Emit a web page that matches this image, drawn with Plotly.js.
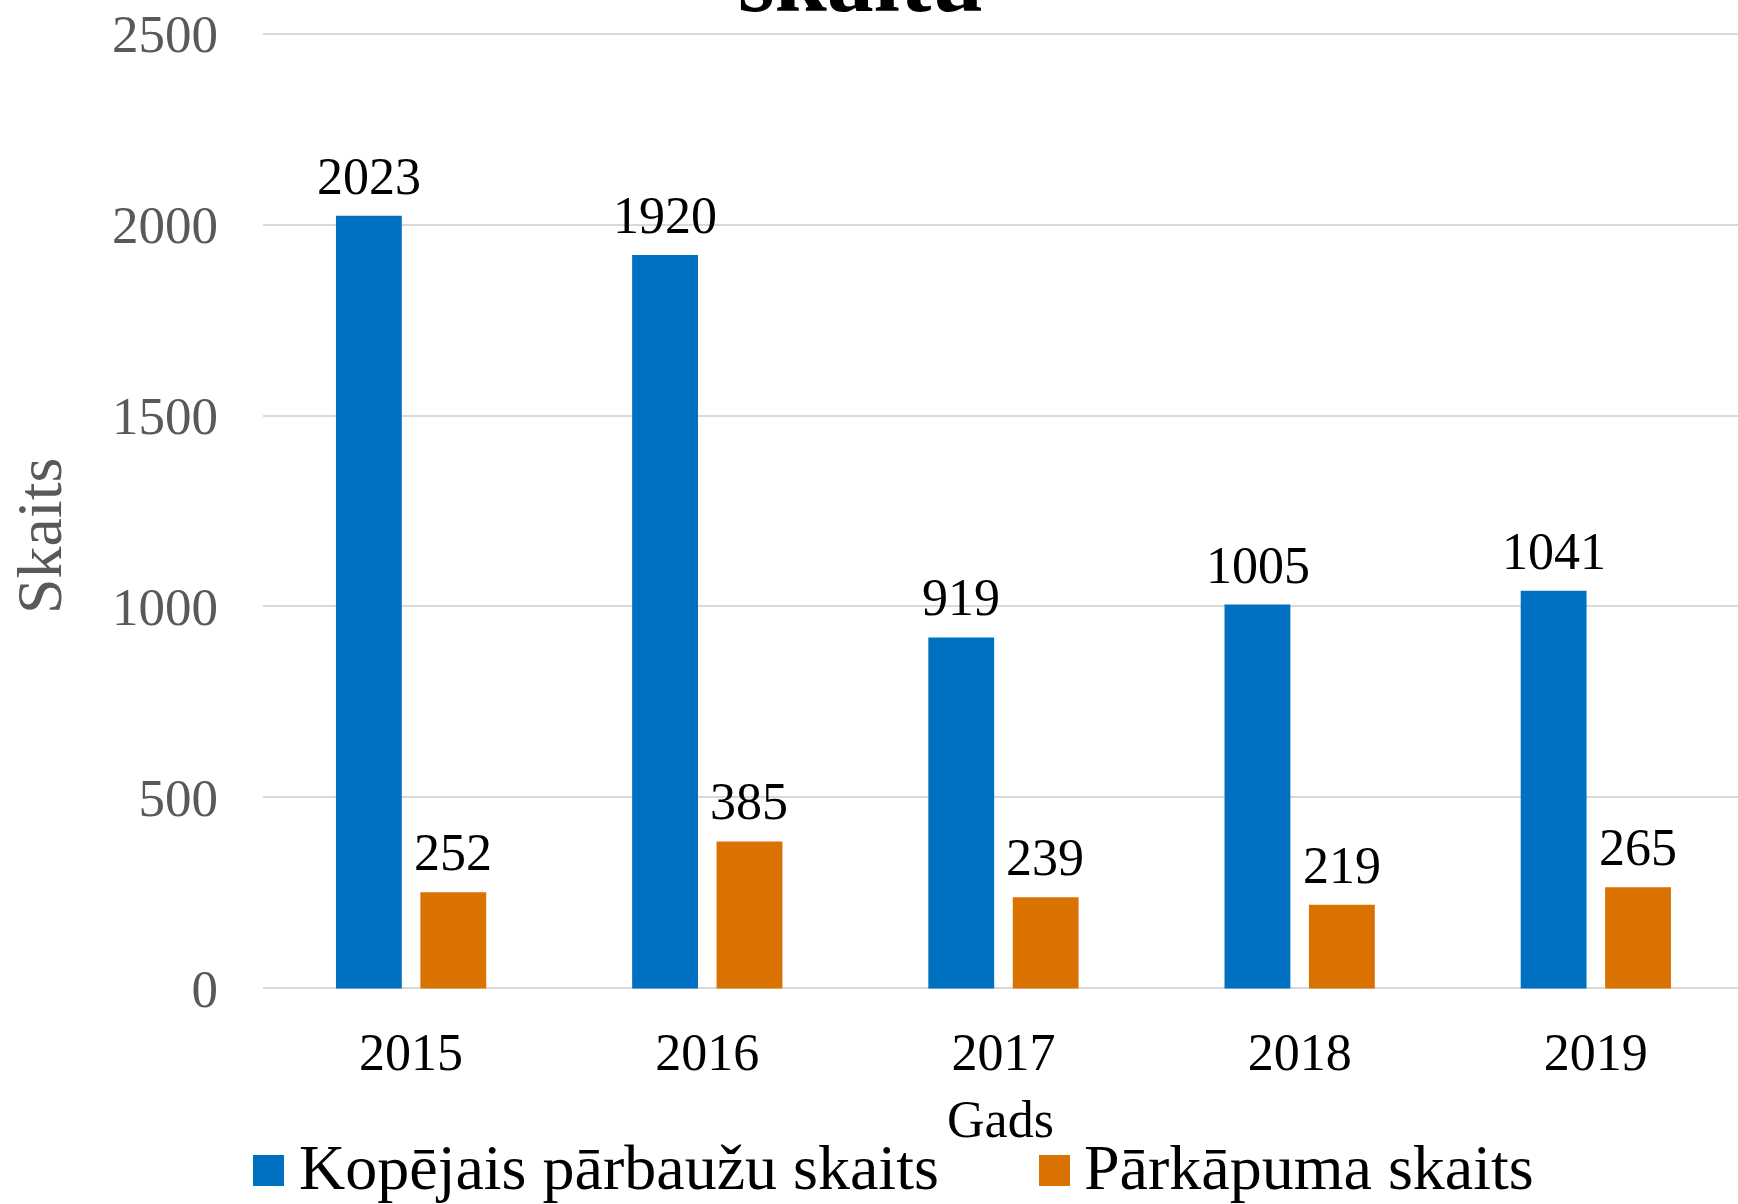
<!DOCTYPE html>
<html>
<head>
<meta charset="utf-8">
<script src="https://cdn.plot.ly/plotly-3.0.1.min.js"></script>
<style>html,body{margin:0;padding:0;background:#fff;}#chart{width:1738px;height:1204px;}</style>
</head>
<body>
<div id="chart"></div>
<script>
const years = ['2015', '2016', '2017', '2018', '2019'];
const totalChecks = [2023, 1920, 919, 1005, 1041];
const violations = [252, 385, 239, 219, 265];
const seriesNames = ['Kopējais pārbaužu skaits', 'Pārkāpuma skaits'];
const titleText = 'skaitu';
const xTitle = 'Gads';
const yTitle = 'Skaits';

const W = 1738, H = 1204;
const M = {l: 263, r: 0, t: 32, b: 214};
const PW = W - M.l - M.r, PH = H - M.t - M.b;
const px = x => (x - M.l) / PW;
const py = y => (H - M.b - y) / PH;

const FONT = 'Liberation Serif, Times New Roman, serif';
const colors = ['#0070C0', '#D97200'];
const groupShift = 42;

const traces = [
  {type: 'bar', name: seriesNames[0], x: years, y: totalChecks, marker: {color: colors[0]}, showlegend: false},
  {type: 'bar', name: seriesNames[1], x: years, y: violations, marker: {color: colors[1]}, showlegend: false}
];

const valueLabels = [];
[totalChecks, violations].forEach((vals, si) => {
  vals.forEach((v, i) => {
    valueLabels.push({
      xref: 'x', yref: 'y', x: i, y: v, xshift: si === 0 ? -groupShift : groupShift, yshift: 9,
      xanchor: 'center', yanchor: 'bottom', text: String(v), showarrow: false,
      font: {family: FONT, size: 52, color: '#000'}
    });
  });
});

const layout = {
  width: W, height: H,
  margin: M,
  paper_bgcolor: '#fff', plot_bgcolor: '#fff',
  font: {family: FONT},
  barmode: 'group', bargap: 0.43, bargroupgap: 0.22,
  xaxis: {type: 'category', range: [-0.5, 4.48], showgrid: false, zeroline: false, showline: false, ticks: '',
          tickfont: {family: FONT, size: 52, color: '#000'}, ticklabelstandoff: 27,
          title: {text: xTitle, font: {family: FONT, size: 52, color: '#000'}, standoff: 20},
          automargin: false},
  yaxis: {range: [-4, 2504], dtick: 500, tick0: 0, showgrid: true, gridcolor: '#D9D9D9', gridwidth: 2,
          zeroline: false, showline: false, ticks: '',
          tickfont: {family: FONT, size: 53, color: '#595959'}, ticklabelstandoff: 44,
          automargin: false},
  showlegend: false,
  shapes: [
    {type: 'rect', xref: 'paper', yref: 'paper', x0: px(253), x1: px(284), y0: py(1186), y1: py(1155),
     fillcolor: colors[0], line: {width: 0}},
    {type: 'rect', xref: 'paper', yref: 'paper', x0: px(1039), x1: px(1070), y0: py(1186), y1: py(1155),
     fillcolor: colors[1], line: {width: 0}}
  ],
  annotations: valueLabels.concat([
    {xref: 'paper', yref: 'paper', x: px(861), y: py(-21), xanchor: 'center', yanchor: 'middle',
     text: '<b>' + titleText + '</b>', showarrow: false, font: {family: FONT, size: 94, color: '#000'}},
    {xref: 'paper', yref: 'paper', x: px(39), y: py(536), xanchor: 'center', yanchor: 'middle', textangle: -90,
     text: yTitle, showarrow: false, font: {family: FONT, size: 64, color: '#595959'}},
    {xref: 'paper', yref: 'paper', x: px(297), y: py(1167), xanchor: 'left', yanchor: 'middle',
     text: seriesNames[0], showarrow: false, font: {family: FONT, size: 64, color: '#000'}},
    {xref: 'paper', yref: 'paper', x: px(1082), y: py(1167), xanchor: 'left', yanchor: 'middle',
     text: seriesNames[1], showarrow: false, font: {family: FONT, size: 64, color: '#000'}}
  ])
};

Plotly.newPlot('chart', traces, layout, {displayModeBar: false, staticPlot: true});
</script>
</body>
</html>
